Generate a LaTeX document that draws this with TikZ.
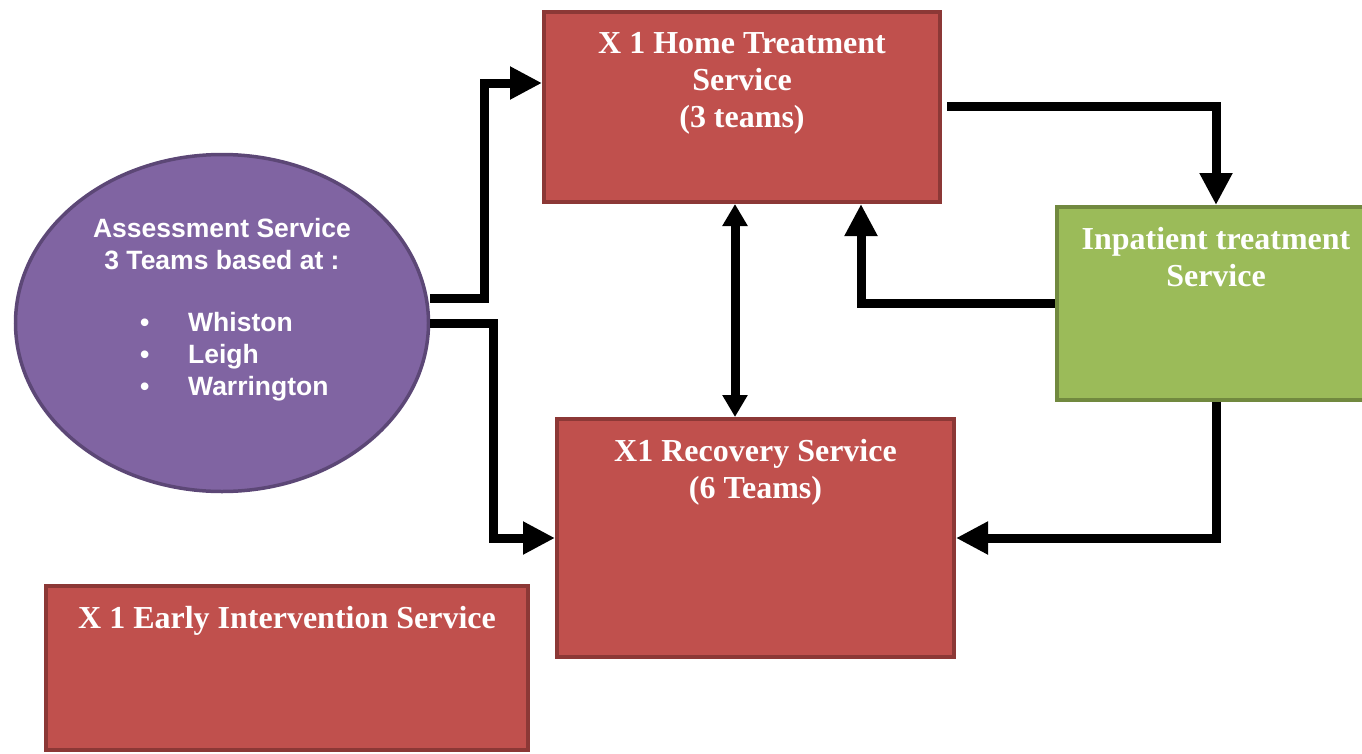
\documentclass[tikz,border=0pt]{standalone}
\usepackage{fontspec}
\setmainfont{Liberation Serif}
\setsansfont{Liberation Sans}
\usetikzlibrary{arrows.meta}
\usetikzlibrary{shapes.geometric}
\definecolor{servred}{HTML}{C0504D}
\definecolor{servredline}{HTML}{8C3836}
\definecolor{inpgreen}{HTML}{9BBB59}
\definecolor{inpgreenline}{HTML}{71893F}
\definecolor{asspurple}{HTML}{8064A2}
\definecolor{asspurpleline}{HTML}{5C4776}

\begin{document}
\begin{tikzpicture}[x=1pt,y=-1pt,
	servbox/.style={rectangle,draw=servredline,fill=servred,line width=4pt,inner sep=0pt},
	inpbox/.style={rectangle,draw=inpgreenline,fill=inpgreen,line width=4pt,inner sep=0pt},
	servtext/.style={anchor=north,inner sep=0pt,text=white,align=center,font=\bfseries\fontsize{32}{37}\selectfont},
	asstext/.style={inner sep=0pt,text=white,font=\sffamily\bfseries\fontsize{26.5}{32}\selectfont},
	flow/.style={line width=9pt,-{Triangle[length=32pt,width=31pt]}},
	dflow/.style={line width=9pt,{Triangle[length=22pt,width=24pt]}-{Triangle[length=22pt,width=24pt]}}]
	
	\useasboundingbox (0,0) rectangle (1362,753);
	
	\node[ellipse,draw=asspurpleline,fill=asspurple,line width=3.5pt,inner sep=0pt,
		minimum width=413pt,minimum height=337pt] (assess) at (222,323) {};
	\node[asstext,anchor=north,align=center] (asshead) at (222,218) {Assessment Service\\3 Teams based at :};
	\node[asstext,anchor=north west,align=left] (asslist) at (140,312)
		{\makebox[48pt][l]{\textbullet}Whiston\\
		 \makebox[48pt][l]{\textbullet}Leigh\\
		 \makebox[48pt][l]{\textbullet}Warrington};
	
	\node[servbox,minimum width=396pt,minimum height=190pt] (home) at (742,107) {};
	\node[servtext] (hometext) at ([yshift=-22pt]home.north) {X 1 Home Treatment\\Service\\(3 teams)};
	
	\node[inpbox,minimum width=318pt,minimum height=193pt] (inpat) at (1216,303.5) {};
	\node[servtext] (inpattext) at ([yshift=-22pt]inpat.north) {Inpatient treatment\\Service};
	
	\node[servbox,minimum width=397pt,minimum height=238pt] (recov) at (755.5,538) {};
	\node[servtext] (recovtext) at ([yshift=-22pt]recov.north) {X1 Recovery Service\\(6 Teams)};
	
	\node[servbox,minimum width=482pt,minimum height=164pt] (early) at (287,668) {};
	\node[servtext] (earlytext) at ([yshift=-22pt]early.north) {X 1 Early Intervention Service};
	
	\draw[flow] ([yshift=25pt]assess.east) -| (484,83) -- ([yshift=24pt]home.west);
	\draw[flow] (assess.east) -| (493,538) -- (recov.west);
	\draw[dflow] (home.south -| 735,0) -- (recov.north -| 735,0);
	\draw[flow] ([xshift=5pt,yshift=1pt]home.east) -| (inpat.north);
	\draw[flow] (inpat.west) -| ([xshift=119pt]home.south);
	\draw[flow] (inpat.south) |- (recov.east);
	
\end{tikzpicture}
\end{document}
